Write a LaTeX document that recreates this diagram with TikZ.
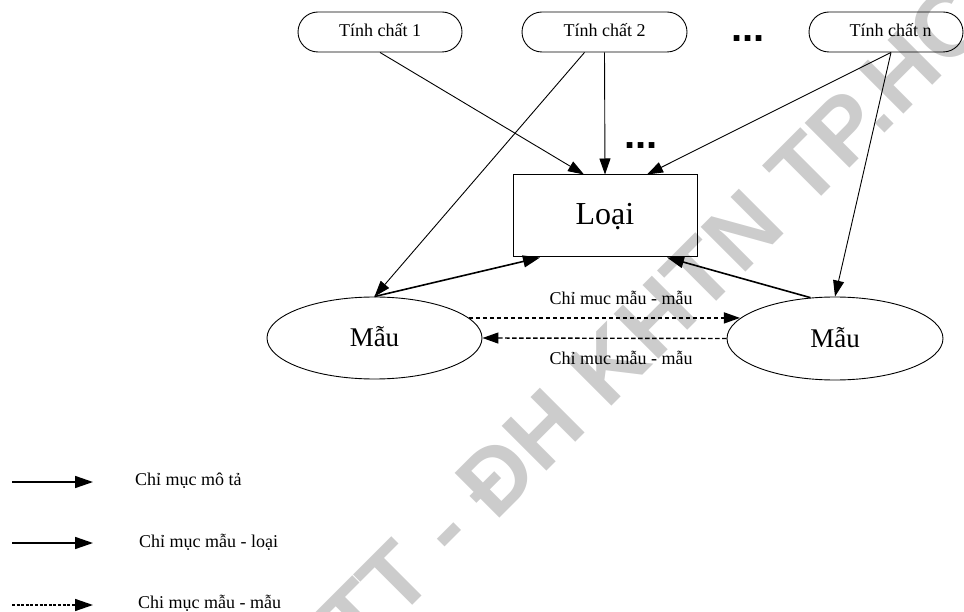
\documentclass[tikz,border=0pt]{standalone}
\usepackage{fontspec}
\setmainfont{Liberation Serif}
\newfontfamily\wmfont{Liberation Sans}
\usetikzlibrary{arrows.meta,shapes.geometric}
\begin{document}
\begin{tikzpicture}[x=1pt,y=-1pt,
  tip/.style={-{Triangle[length=16pt,width=11pt]}},
  thinline/.style={line width=0.9pt,tip},
  boldline/.style={line width=1.6pt,-{Triangle[length=17pt,width=12pt]}},
  dashline/.style={line width=1.4pt,dash pattern=on 4.5pt off 2.5pt,tip},
  prop/.style={draw,line width=0.9pt,rounded corners=20pt,minimum height=40pt,
    inner sep=0pt,font=\fontsize{18}{20}\selectfont,text height=14pt,text depth=4pt},
  classbox/.style={draw,line width=1pt,minimum width=184pt,minimum height=82pt,
    inner sep=0pt,font=\fontsize{32}{34}\selectfont,text height=24pt,text depth=6pt},
  sample/.style={draw,ellipse,line width=0.9pt,inner sep=0pt,
    font=\fontsize{27}{29}\selectfont,text height=22pt,text depth=4pt},
  lbl/.style={inner sep=0pt,font=\fontsize{18}{20}\selectfont},
  dots/.style={inner sep=0pt,font=\wmfont\bfseries\fontsize{40}{40}\selectfont},
  legline/.style={line width=1.6pt,-{Triangle[length=18pt,width=12pt]}},
  legdash/.style={line width=1.5pt,dash pattern=on 3pt off 1.6pt,-{Triangle[length=18pt,width=12pt]}}
]
\useasboundingbox (0,0) rectangle (964,612);

% background watermark
\begin{scope}
  \clip (0,0) rectangle (964,612);
  \node[rotate=45,anchor=base west,inner sep=0pt,text=black!20,
        font=\wmfont\bfseries\fontsize{92}{92}\selectfont] (wm) at (358,660)
        {TT - ĐH KHTN TP.HCM};
\end{scope}

% properties
\node[prop,minimum width=164pt] (tc1) at (380,32) {Tính chất 1};
\node[prop,minimum width=165pt] (tc2) at (604.5,32) {Tính chất 2};
\node[prop,minimum width=154pt] (tcn) at (886,32) {\hspace*{9pt}Tính chất n};
\node[dots,anchor=base] (dotsA) at (748,42) {...};

% class and samples
\node[classbox] (loai) at (605,216) {Loại};
\node[dots,anchor=base] (dotsB) at (641,149) {...};
\node[sample,minimum width=215pt,minimum height=82pt] (m1) at (374.5,338) {Mẫu};
\node[sample,minimum width=216pt,minimum height=83pt] (m2) at (835,338.5) {Mẫu};

% description index
\draw[thinline] (tc1.south) -- ([xshift=-21pt]loai.north);
\draw[thinline] (tc2.south) -- (loai.north);
\draw[thinline] ([xshift=5pt]tcn.south) -- ([xshift=42pt]loai.north);
\draw[thinline] ([xshift=-20pt]tc2.south) -- (m1.north);
\draw[thinline] ([xshift=5pt]tcn.south) -- (m2.north);

% sample - class index
\draw[boldline] (m1.north) -- ([xshift=-65pt]loai.south);
\draw[boldline] (m2.121) -- ([xshift=62pt]loai.south);

% sample - sample index
\draw[dashline] (m1.12) -- (m2.168 |- m1.12);
\draw[dashline] (m2.west) -- (m1.east);
\node[lbl,anchor=base] (lab1) at (621,305) {Chỉ muc mẫu - mẫu};
\node[lbl,anchor=base] (lab2) at (621,364) {Chỉ muc mẫu - mẫu};

% legend
\coordinate (la) at (12,482); \coordinate (lb) at (93,482);
\coordinate (lc) at (12,543); \coordinate (ld) at (93,543);
\coordinate (le) at (12,605); \coordinate (lf) at (93,605);
\draw[legline] (la) -- (lb);
\draw[legline] (lc) -- (ld);
\draw[legdash] (le) -- (lf);
\node[lbl,anchor=base west] (t1) at (135,485) {Chỉ mục mô tả};
\node[lbl,anchor=base west] (t2) at (139,547) {Chỉ mục mẫu - loại};
\node[lbl,anchor=base west] (t3) at (138,608) {Chi mục mẫu - mẫu};
\end{tikzpicture}
\end{document}
